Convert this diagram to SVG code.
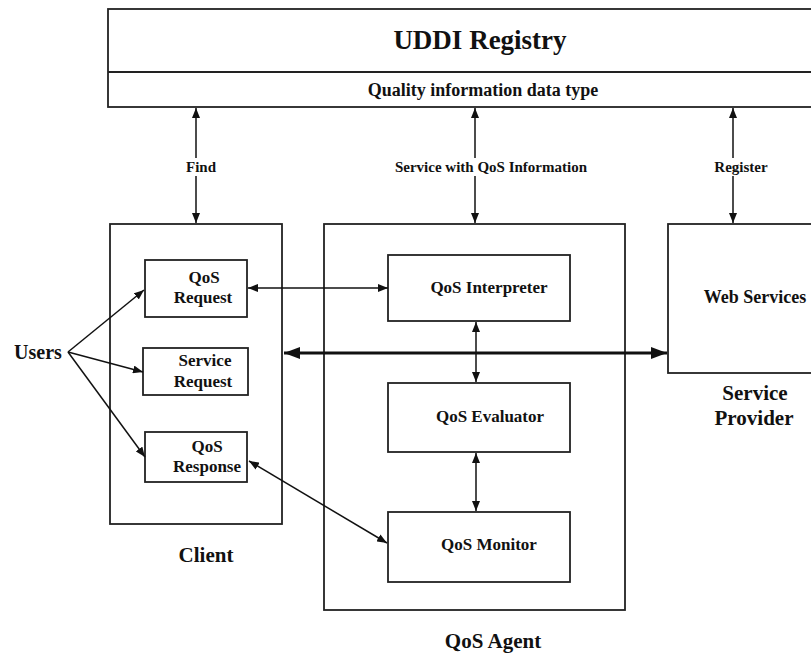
<svg xmlns="http://www.w3.org/2000/svg" width="811" height="655" viewBox="0 0 811 655">
<defs>
<style>
.box{fill:#fff;stroke:#222;stroke-width:1.8}
.t{font-family:"Liberation Serif","Times New Roman",serif;font-weight:bold;fill:#111;text-anchor:middle}
.ln{stroke:#111;stroke-width:1.5;fill:none}
.thick{stroke:#111;stroke-width:3.2;fill:none}
</style>
<marker id="ah" viewBox="0 0 10 8" refX="10" refY="4" markerWidth="10" markerHeight="8" markerUnits="userSpaceOnUse" orient="auto-start-reverse">
<path d="M0,0 L10,4 L0,8 z" fill="#111"/>
</marker>
<marker id="ahb" viewBox="0 0 16 12" refX="16" refY="6" markerWidth="16" markerHeight="12" markerUnits="userSpaceOnUse" orient="auto-start-reverse">
<path d="M0,0 L16,6 L0,12 z" fill="#111"/>
</marker>
</defs>
<rect width="811" height="655" fill="#fff"/>

<g id="uddi">
<rect class="box" x="108" y="9" width="720" height="98"/>
<line class="box" x1="108" y1="72" x2="828" y2="72"/>
<text class="t" x="480" y="49" font-size="27">UDDI Registry</text>
<text class="t" x="483" y="96" font-size="18">Quality information data type</text>
</g>

<g id="client">
<rect class="box" x="110" y="224" width="172" height="300"/>
<text class="t" x="206" y="562" font-size="21">Client</text>
</g>
<g id="qos-request">
<rect class="box" x="145" y="260" width="102" height="57"/>
<text class="t" x="204" y="283" font-size="17">QoS</text>
<text class="t" x="203" y="303" font-size="17">Request</text>
</g>
<g id="service-request">
<rect class="box" x="143" y="348" width="105" height="47"/>
<text class="t" x="205" y="366" font-size="17">Service</text>
<text class="t" x="203" y="387" font-size="17">Request</text>
</g>
<g id="qos-response">
<rect class="box" x="145" y="432" width="102" height="50"/>
<text class="t" x="207" y="452" font-size="17">QoS</text>
<text class="t" x="207" y="472" font-size="17">Response</text>
</g>

<g id="qos-agent">
<rect class="box" x="324" y="224" width="301" height="386"/>
<text class="t" x="493" y="648" font-size="21">QoS Agent</text>
</g>
<g id="qos-interpreter">
<rect class="box" x="388" y="255" width="182" height="66"/>
<text class="t" x="489" y="293" font-size="17">QoS Interpreter</text>
</g>
<g id="qos-evaluator">
<rect class="box" x="388" y="383" width="182" height="69"/>
<text class="t" x="490" y="422" font-size="17">QoS Evaluator</text>
</g>
<g id="qos-monitor">
<rect class="box" x="388" y="512" width="182" height="70"/>
<text class="t" x="489" y="550" font-size="17">QoS Monitor</text>
</g>

<g id="web-services">
<rect class="box" x="668" y="224" width="160" height="149"/>
<text class="t" x="755" y="303" font-size="18">Web Services</text>
<text class="t" x="755" y="400" font-size="21">Service</text>
<text class="t" x="754" y="425" font-size="21">Provider</text>
</g>

<g id="users">
<text class="t" x="38" y="359" font-size="20">Users</text>
</g>

<g id="connectors">
<line class="ln" x1="196" y1="108" x2="196" y2="223" marker-start="url(#ah)" marker-end="url(#ah)"/>
<line class="ln" x1="475" y1="108" x2="475" y2="223" marker-start="url(#ah)" marker-end="url(#ah)"/>
<line class="ln" x1="733" y1="108" x2="733" y2="223" marker-start="url(#ah)" marker-end="url(#ah)"/>
<rect x="182" y="158" width="30" height="18" fill="#fff"/>
<rect x="390" y="158" width="200" height="18" fill="#fff"/>
<rect x="712" y="158" width="58" height="18" fill="#fff"/>
<text class="t" x="201" y="172" font-size="15">Find</text>
<text class="t" x="491" y="172" font-size="15">Service with QoS Information</text>
<text class="t" x="741" y="172" font-size="15">Register</text>

<line class="ln" x1="68" y1="352" x2="144" y2="290" marker-end="url(#ah)"/>
<line class="ln" x1="68" y1="352" x2="143" y2="372" marker-end="url(#ah)"/>
<line class="ln" x1="68" y1="352" x2="145" y2="457" marker-end="url(#ah)"/>

<line class="ln" x1="248" y1="288" x2="388" y2="288" marker-start="url(#ah)" marker-end="url(#ah)"/>
<line class="thick" x1="284" y1="353" x2="667" y2="353" marker-start="url(#ahb)" marker-end="url(#ahb)"/>
<line class="ln" x1="476" y1="322" x2="476" y2="382" marker-start="url(#ah)" marker-end="url(#ah)"/>
<line class="ln" x1="476" y1="453" x2="476" y2="511" marker-start="url(#ah)" marker-end="url(#ah)"/>
<line class="ln" x1="249" y1="461" x2="387" y2="543" marker-start="url(#ah)" marker-end="url(#ah)"/>
</g>
</svg>
